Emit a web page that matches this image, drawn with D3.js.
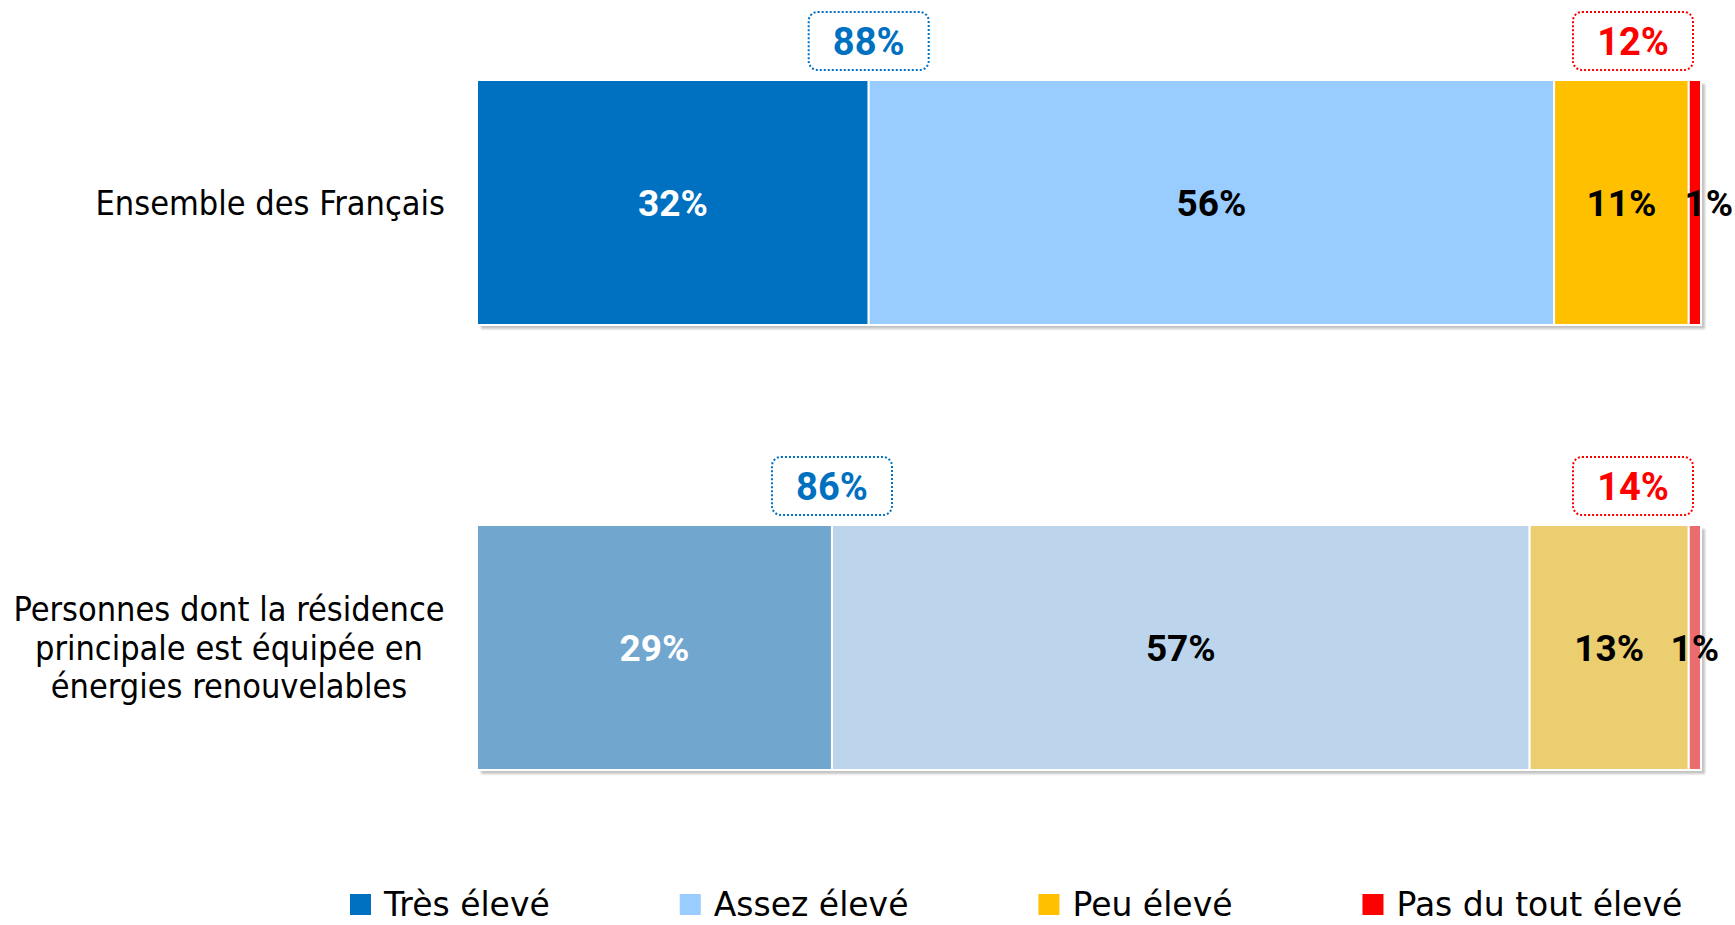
<!DOCTYPE html>
<html lang="fr">
<head>
    <meta charset="UTF-8">
    <script src="https://d3js.org/d3.v7.min.js"></script>
    <style>
        body { margin: 0; background: #fff; }
    </style>
</head>
<body>
    <div id="viz"></div>
    <script>
        // data
        const categories = ["Ensemble des Français", "Personnes dont la résidence principale est équipée en énergies renouvelables"]
        const labelLines = [["Ensemble des Français"], ["Personnes dont la résidence", "principale est équipée en", "énergies renouvelables"]]
        const series = ["Très élevé", "Assez élevé", "Peu élevé", "Pas du tout élevé"]
        const tresEleve = [32, 29]
        const assezEleve = [56, 57]
        const peuEleve = [11, 13]
        const pasDuTout = [1, 1]
        const totalEleve = [88, 86]
        const totalPeu = [12, 14]

        const colorsRow = [
            ["#0070C0", "#99CCFF", "#FFC000", "#FF0000"],
            ["#71A6CE", "#BCD5EC", "#EBCE6F", "#EB6C6E"]
        ]
        const legendColors = colorsRow[0]

        const fullWidth = 1735
        const fullHeight = 925

        const svg = d3.select("#viz").append("svg")
            .attr("width", fullWidth)
            .attr("height", fullHeight)

        const x = d3.scaleLinear().domain([0, 100]).range([477, 1701])
        const y = d3.scaleBand().domain(categories).range([80, 770]).paddingInner(200 / 445)

        const rows = categories.map((c, i) => {
            const vals = [tresEleve[i], assezEleve[i], peuEleve[i], pasDuTout[i]]
            let acc = 0
            const segs = vals.map((v, j) => {
                const s = { x0: acc, x1: acc + v, v: v, j: j, color: colorsRow[i][j] }
                acc += v
                return s
            })
            return { cat: c, i: i, segs: segs, total: acc }
        })

        const defs = svg.append("defs")
        defs.append("filter").attr("id", "blur")
            .append("feGaussianBlur").attr("stdDeviation", 1.2)

        // shadow behind bars
        svg.selectAll(".shadow")
            .data(rows)
            .enter()
            .append("rect")
            .attr("x", d => x(0) + 4)
            .attr("y", d => y(d.cat) + 4)
            .attr("width", d => x(d.total) - x(0))
            .attr("height", y.bandwidth())
            .attr("fill", "#c4c4c4")
            .attr("filter", "url(#blur)")

        const bars = svg.selectAll(".row")
            .data(rows)
            .enter()
            .append("g")

        bars.selectAll("rect.seg")
            .data(d => d.segs.map(s => Object.assign({ cat: d.cat, row: d.i }, s)))
            .enter()
            .append("rect")
            .attr("x", d => x(d.x0))
            .attr("y", d => y(d.cat))
            .attr("width", d => x(d.x1) - x(d.x0))
            .attr("height", y.bandwidth())
            .attr("fill", d => d.color)
            .attr("stroke", "#fff")
            .attr("stroke-width", 2)

        bars.selectAll("text.val")
            .data(d => d.segs.map(s => Object.assign({ cat: d.cat, row: d.i }, s)))
            .enter()
            .append("text")
            // the tiny last segment label of the first row sits a bit to the right
            .attr("x", d => x((d.x0 + d.x1) / 2) + (d.j === 3 && d.row === 0 ? 14 : 0))
            .attr("y", d => y(d.cat) + y.bandwidth() / 2)
            .attr("dy", "0.36em")
            .attr("text-anchor", "middle")
            .attr("font-family", "Roboto, 'Open Sans', sans-serif")
            .attr("font-weight", "bold")
            .attr("font-size", 37)
            .attr("fill", d => d.j === 0 ? "#fff" : "#000")
            .text(d => d.v + "%")

        // category labels
        const lineH = 38.5
        svg.selectAll(".cat")
            .data(rows)
            .enter()
            .append("text")
            .attr("class", "cat")
            .attr("text-anchor", d => labelLines[d.i].length > 1 ? "middle" : "end")
            .attr("x", d => labelLines[d.i].length > 1 ? 229 : 445)
            .attr("y", d => y(d.cat) + y.bandwidth() / 2 - (labelLines[d.i].length - 1) * lineH / 2)
            .attr("font-family", "'DejaVu Sans Condensed', 'DejaVu Sans', sans-serif")
            .attr("font-stretch", "condensed")
            .attr("font-size", 34)
            .attr("fill", "#000")
            .each(function (d) {
                const t = d3.select(this)
                labelLines[d.i].forEach((ln, k) => {
                    t.append("tspan")
                        .attr("x", t.attr("x"))
                        .attr("dy", k === 0 ? "0.36em" : lineH)
                        .text(ln)
                })
            })

        // dotted boxes with totals
        const boxW = 120, boxH = 58
        function box(cx, cy, txt, color) {
            svg.append("rect")
                .attr("x", cx - boxW / 2)
                .attr("y", cy - boxH / 2)
                .attr("width", boxW)
                .attr("height", boxH)
                .attr("rx", 9)
                .attr("fill", "#fff")
                .attr("stroke", color)
                .attr("stroke-width", 2)
                .attr("stroke-dasharray", "2,2")
            svg.append("text")
                .attr("x", cx)
                .attr("y", cy)
                .attr("dy", "0.36em")
                .attr("text-anchor", "middle")
                .attr("font-family", "Roboto, 'Open Sans', sans-serif")
                .attr("font-weight", "bold")
                .attr("font-size", 38)
                .attr("fill", color)
                .text(txt)
        }
        rows.forEach(r => {
            const cy = y(r.cat) - 10 - boxH / 2
            box(x(tresEleve[r.i]), cy, totalEleve[r.i] + "%", "#0070C0")
            box(x(100) - boxW / 2 - 8, cy, totalPeu[r.i] + "%", "#FF0000")
        })

        // legend
        let lx = 350
        const ly = 904
        series.forEach((s, i) => {
            svg.append("rect")
                .attr("x", lx)
                .attr("y", ly - 10)
                .attr("width", 21)
                .attr("height", 21)
                .attr("fill", legendColors[i])
            const t = svg.append("text")
                .attr("x", lx + 34)
                .attr("y", ly)
                .attr("dy", "0.36em")
                .attr("font-family", "'DejaVu Sans', sans-serif")
                .attr("font-size", 33)
                .attr("fill", "#000")
                .text(s)
            lx += 34 + t.node().getComputedTextLength() + 130
        })
    </script>
</body>
</html>
